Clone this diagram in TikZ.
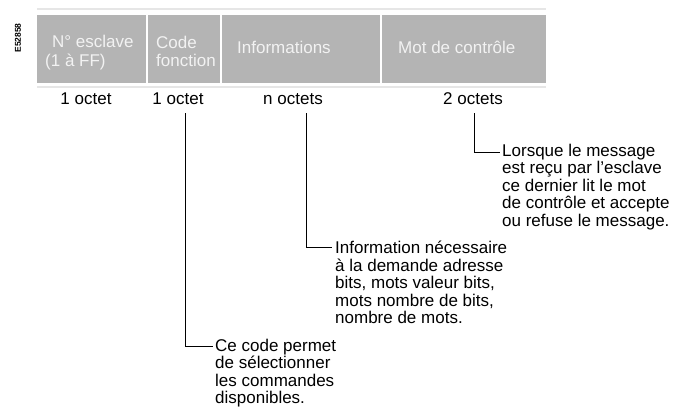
\documentclass[tikz,border=0pt]{standalone}
\usepackage{fontspec}
\setmainfont{Liberation Sans}
\definecolor{hdrgrey}{HTML}{B4B4B4}
\definecolor{hdrtext}{HTML}{F2F2F2}
\definecolor{rulegrey}{HTML}{E6E6E6}
\tikzset{
  hdrtxt/.style={anchor=north west, inner sep=0pt, align=left, text=hdrtext,
    font=\fontsize{17bp}{18.5bp}\selectfont},
  sizelbl/.style={anchor=base, inner sep=0pt, font=\fontsize{17bp}{17.7bp}\selectfont},
  desc/.style={anchor=north west, inner sep=0pt, align=left,
    font=\fontsize{17bp}{17.5bp}\selectfont},
  leader/.style={draw=black, line width=1bp},
}
\begin{document}
\begin{tikzpicture}[x=1bp,y=-1bp]
\useasboundingbox (0,0) rectangle (684,406);
% tag
\node[rotate=90, inner sep=0pt, font=\fontsize{8.5bp}{9bp}\selectfont\bfseries] (tag) at (18,38) {E52858};
% header band
\draw[rulegrey, line width=2bp] (37,9) -- (546,9);
\draw[rulegrey, line width=2bp] (37,87) -- (546,87);
\fill[hdrgrey] (37,15) rectangle (546,83);
\draw[white, line width=1.5bp] (147,15) -- (147,83);
\draw[white, line width=1.5bp] (221,15) -- (221,83);
\draw[white, line width=1.5bp] (381,15) -- (381,83);
\node[hdrtxt] (h1) at (45,35) {\hspace*{7bp}N° esclave\\(1 à FF)};
\node[hdrtxt] (h2) at (156,35.5) {Code\\fonction};
\node[hdrtxt] (h3) at (237,40.5) {Informations};
\node[hdrtxt] (h4) at (398,40.5) {Mot de contrôle};
% size labels
\node[sizelbl] (o1) at (86,104) {1 octet};
\node[sizelbl] (o2) at (178,104) {1 octet};
\node[sizelbl] (o3) at (293,104) {n octets};
\node[sizelbl] (o4) at (473,104) {2 octets};
% descriptions
\node[desc] (d1) at (215,338.5) {Ce code permet\\de sélectionner\\les commandes\\disponibles.};
\node[desc] (d2) at (335,241) {Information nécessaire\\à la demande adresse\\bits, mots valeur bits,\\mots nombre de bits,\\nombre de mots.};
\node[desc] (d3) at (502,143.5) {Lorsque le message\\est reçu par l'esclave\\ce dernier lit le mot\\de contrôle et accepte\\ou refuse le message.};
% leader anchors
\coordinate (s1) at (185,113);
\coordinate (e1) at (213,346.5);
\coordinate (s2) at (306.5,113);
\coordinate (e2) at (332,247.5);
\coordinate (s3) at (474,113);
\coordinate (e3) at (500,152);
\draw[leader] (s1) |- (e1);
\draw[leader] (s2) |- (e2);
\draw[leader] (s3) |- (e3);
\end{tikzpicture}
\end{document}
